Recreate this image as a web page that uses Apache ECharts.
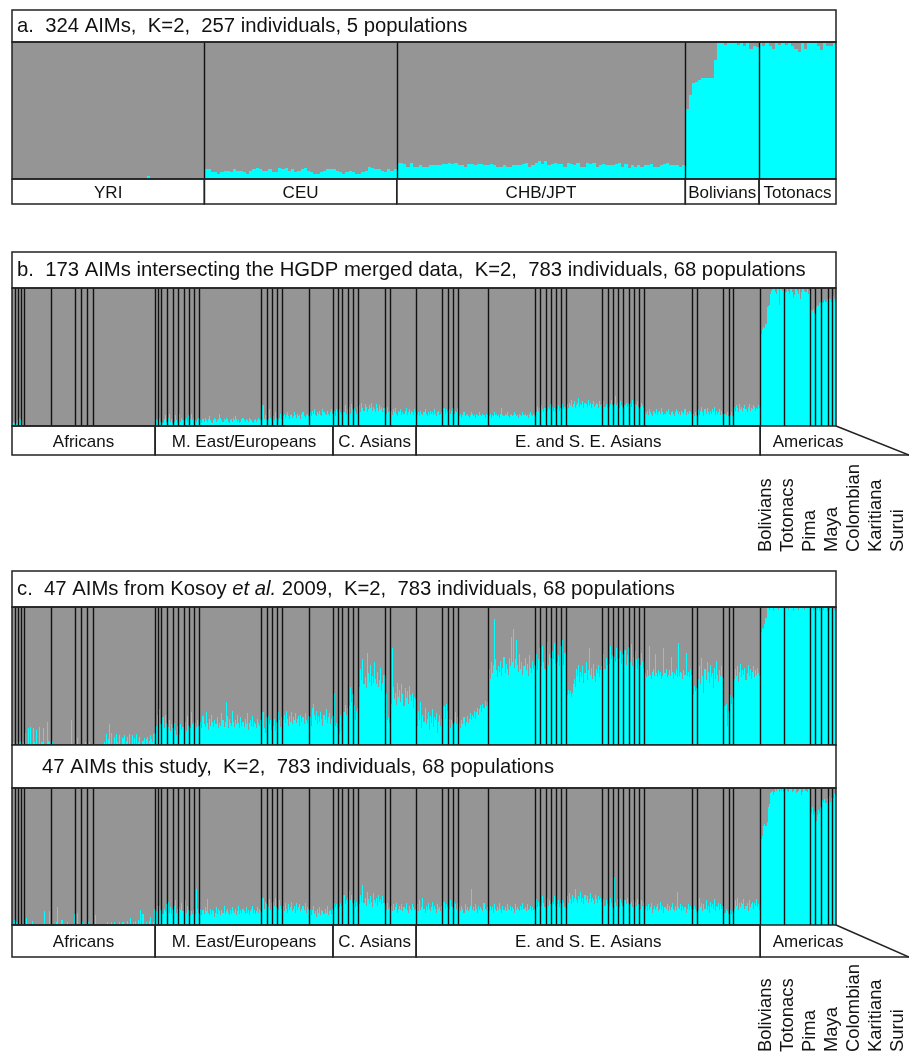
<!DOCTYPE html>
<html>
<head>
<meta charset="utf-8">
<script src="https://cdn.jsdelivr.net/npm/echarts@6/dist/echarts.min.js"></script>
<style>
  html, body { margin: 0; padding: 0; background: #ffffff; }
  #chart { width: 909px; height: 1055px; }
</style>
</head>
<body>
<div id="chart"></div>
<script>
// ---------------------------------------------------------------------------
// Ancestry proportions (percent of the cyan cluster, K=2) per individual,
// grouped by population.
// ---------------------------------------------------------------------------

// a. 324 AIMs, HapMap + two Native American samples
const hapmapNames = ['YRI', 'CEU', 'CHB/JPT', 'Bolivians', 'Totonacs'];
const hapmapValues = [
  [1,0,0,0,0,0,0,0,0,0, 0,0,0,0,0,0,0,0,0,0, 0,0,0,0,0,0,0,0,0,0, 0,0,0,0,0,0,0,0,0,0, 0,0,2,1,0,0,0,0,0,0, 0,0,0,0,0,0,0,0,1,0],
  [7,7,5,5,4,5,6,6,5,7, 6,6,5,4,6,7,8,7,6,6, 7,5,5,8,7,8,6,7,5,6, 7,8,6,5,4,4,5,6,7,7, 7,6,5,4,5,6,5,4,4,5, 6,9,8,7,7,6,5,7,6,7],
  [12,12,11,9,12,9,9,10,9,9, 10,10,10,10,11,11,12,11,12,10, 10,9,11,11,10,11,11,10,10,11, 10,9,9,10,9,9,10,10,10,11,
   12,9,10,12,13,11,13,10,11,12, 11,11,9,12,11,10,12,9,9,12, 11,12,9,10,11,10,10,10,11,12, 9,11,8,10,9,10,9,10,10,11,
   9,9,10,11,12,10,10,10,9,10],
  [51,61,70,71,72,74,74,74,74,87, 99,99,98,99,99,99,98,99,97,99, 95,97,96],
  [99,97,99,97,95,99,98,99,98,99, 97,95,93,99,95,99,99,99,97,94, 99,97,97,99]
];

// b./c. 68 populations, 783 individuals
const hgdpGroups = ['Africans', 'M. East/Europeans', 'C. Asians', 'E. and S. E. Asians', 'Americas'];
const hgdpGroupPopCounts = [10, 16, 8, 27, 7];
const americasNames = ['Bolivians', 'Totonacs', 'Pima', 'Maya', 'Colombian', 'Karitiana', 'Surui'];
const hgdpPopSizes = [
  3,3,3,2,26,23,6,5,6,59,
  3,3,5,6,5,5,5,5,5,59,5,5,5,5,25,23,
  5,4,5,5,5,25,5,25,
  25,5,5,5,28,45,5,5,5,5,5,4,35,5,5,5,5,5,5,5,5,45,5,25,5,4,26,
  23,24,5,6,6,4,4
];

// b. 173 AIMs intersecting the HGDP merged data
const hgdpB = [
  [2,3,2],[3,2,4],[4,6,5],[1,0],
  [0,0,0,0,0,0,0,0,0,0, 0,0,0,0,0,0,0,0,0,0, 0,0,0,0,0,0],
  [0,0,0,0,0,0,0,0,0,0, 0,0,0,0,0,0,0,0,0,0, 0,0,0],
  [0,0,0,0,0,0],[0,0,0,0,0],[0,0,0,0,0,0],
  [0,0,0,0,0,0,0,0,0,0, 0,0,0,0,0,0,0,0,0,0, 0,0,0,0,0,0,0,0,0,0, 0,0,0,0,0,0,0,0,0,0, 0,0,0,0,0,0,0,0,0,0, 0,0,0,0,0,0,0,0,0],
  [3,5,4],[2,6,3],[7,2,5,8,3],[4,6,9,3,5,2],[6,3,8,4,2],[5,9,3,6,4],[7,4,6,3,8],[3,5,9,4,6],[2,4,3,5,6],
  [3,4,2,5,3,6,4,3,5,7, 4,3,2,4,6,5,3,4,5,9, 6,4,3,5,4,6,5,3,2,4, 5,3,6,4,7,5,3,4,2,3, 5,6,4,3,5,4,3,6,5,4, 3,2,4,5,3,4,6,5,4],
  [6,15,5,8,4],[9,5,12,6,4],[5,7,4,10,6],[8,4,6,9,5],
  [7,9,6,8,10,7,5,8,9,6, 7,10,8,6,9,7,8,5,9,10, 7,6,8,9,7],
  [8,10,7,11,9,12,8,7,10,9, 11,8,7,12,10,9,8,11,9,7, 10,12,9],
  [9,11,7,12,10],[8,12,10,9],[13,10,15,9,12],[11,14,9,16,12],[10,13,11,9,14],
  [12,15,10,17,13,11,16,14,10,12, 15,13,17,11,14,12,10,16,13,11, 15,12,14,10,13],
  [12,9,14,10,11],
  [9,11,8,12,10,13,9,7,11,10, 12,8,10,9,11,13,8,10,12,9, 11,10,8,12,10],
  [9,8,10,7,11,9,8,10,12,9, 7,10,8,11,9,10,8,12,9,7, 10,11,8,9,10],
  [11,13,9,12,10],[10,12,9,11,13],[12,9,11,10,13],
  [8,7,9,6,8,10,7,8,9,7, 6,8,10,9,7,8,6,9,8,7, 10,8,7,9,8,6,9,8],
  [8,7,9,6,8,7,10,8,9,7, 8,6,9,13,8,7,9,8,10,7, 6,8,9,7,8,10,9,7,8,6, 9,8,7,10,8,9,7,8,6,9, 10,8,7,9,8],
  [12,10,14,11,13],[11,15,12,10,13],[13,11,14,12,16],[12,14,11,13,10],[14,12,15,11,13],[13,16,12,14],
  [14,16,13,17,15,19,14,16,18,13, 15,17,20,14,16,15,18,13,17,16, 14,19,15,17,13,16,18,14,15,17, 16,13,18,15,16],
  [15,18,14,16,13],[17,14,16,19,15],[14,16,22,15,17],[16,13,18,15,14],[18,15,17,14,16],[15,17,14,19,16],[13,16,15,18,14],[16,14,17,15,13],
  [10,9,11,8,12,10,9,7,11,10, 9,12,8,10,11,9,13,10,8,9, 11,10,12,9,8,10,11,9,7,10, 12,11,9,10,8,11,10,9,12,8, 10,9,11,10,9],
  [8,9,7,10,8],
  [9,12,8,11,14,10,7,12,9,13, 10,8,11,9,12,10,14,8,11,9, 10,12,8,11,9],
  [7,9,8,10,7],[9,8,10,7],
  [12,14,11,15,13,10,16,12,14,11, 13,15,12,10,14,16,11,13,12,15, 14,11,13,12,15,13],
  [66,67,70,72,71,74,86,87,88,96, 98,99,100,99,97,96,99,100,88,99, 100,98,99],
  [99,97,100,98,96,99,100,97,93,95, 99,100,98,96,99,92,97,99,100,98, 97,99,96,98],
  [82,84,83,85,82],[84,86,88,87,89,90],[88,90,89,91,90,92],[91,93,92,90],[93,94,92,95]
];

// c. 47 AIMs from Kosoy et al. 2009
const hgdpC1 = [
  [0,2,1],[3,1,2],[4,2,3],[1,2],
  [0,9,1,0,12,0,13,1,0,12, 2,0,11,0,1,13,0,2,12,0, 0,1,17,3,2,0],
  [2,3,1,0,0,0,0,0,0,0, 0,0,0,0,0,0,0,0,0,18, 0,0,0],
  [0,0,5,0,0,0],[0,0,0,2,0],[0,0,2,0,0,0],
  [0,0,0,0,0,0,0,1,0,0, 2,0,8,0,4,15,0,9,0,1, 6,0,8,2,0,7,0,1,5,7, 0,3,6,0,8,1,0,7,0,5, 0,8,0,2,6,1,0,3,5,0, 4,6,0,3,7,4,2,8,9],
  [20,14,22],[18,26,15],[24,20,12,22,16],[8,13,18,10,15,12],[9,16,11,7,14],[12,8,15,11,13],[26,17,10,21,14],[19,12,24,15,17],[11,16,13,18,14],
  [14,17,12,21,15,13,24,16,11,19, 14,22,17,13,18,15,15,20,12,16, 14,23,18,13,17,31,21,12,19,16, 14,25,17,13,18,15,22,16,12,20, 14,17,13,19,15,23,11,16,18,14, 21,13,17,15,12,19,16,14,18],
  [16,24,12,9,20],[13,21,15,18,11],[22,14,19,10,17],[15,24,18,13,20],
  [18,22,16,25,19,14,21,17,24,15, 20,18,23,16,19,21,14,22,17,20, 15,23,18,16,21],
  [16,20,14,27,30,22,18,25,15,21, 17,24,19,14,22,18,26,16,20,23, 15,19,21],
  [18,38,14,16,12],[9,8,22,10],[26,24,29,22,27],[34,28,42,31,37],[22,29,18,25,27],
  [45,42,55,47,62,44,49,41,67,52, 46,58,43,50,45,60,48,44,53,42, 47,56,39,45,51],
  [19,37,18,20,16],
  [36,30,70,42,33,38,29,45,35,40, 31,44,37,28,41,34,39,30,43,36, 32,38,27,35,33],
  [20,14,25,18,31,12,22,17,27,15, 19,24,11,21,16,26,13,20,18,23, 9,17,22,14,19],
  [22,28,19,30,25],[15,19,12,18,16],[21,17,24,15,20],
  [13,16,12,18,15,20,14,17,21,16, 19,23,18,22,20,25,19,24,27,22, 26,29,24,30,27,32,28,31],
  [50,55,48,60,52,58,91,62,54,49, 57,53,61,50,56,64,52,59,55,51, 63,57,78,60,84,56,62,76,58,53, 66,55,60,51,57,63,54,59,50,65, 56,52,61,55,58],
  [58,66,54,62,70],[64,57,72,60,55],[61,75,58,66,63],[56,68,62,74,59],[70,60,65,57,72],[63,76,58,67],
  [38,36,40,37,39,35,38,44,48,42, 55,50,58,46,53,49,57,45,52,60, 47,54,70,51,56,48,59,50,46,55, 52,58,49,54,57],
  [60,66,55,63,58],[67,59,72,62,65],[57,64,60,70,62],[74,63,68,59,66],[61,69,58,65,71],[66,60,73,57,64],[59,68,62,55,63],[64,58,67,61,56],
  [52,49,54,50,72,51,48,53,55,50, 66,52,49,54,51,53,48,50,70,52, 55,49,51,54,50,64,53,48,52,51, 55,49,74,50,53,52,48,54,51,67, 50,53,49,55,51],
  [40,37,43,39,41],
  [52,48,57,44,63,50,38,55,47,60, 53,45,58,49,52,41,56,48,61,51, 46,54,50,57,49],
  [35,28,30,14,25],[33,36,30,35],
  [52,48,55,50,57,46,53,59,49,54, 51,56,47,52,58,50,55,48,53,57, 49,54,51,56,52,50],
  [80,82,85,84,88,92,99,100,98,100, 99,100,97,100,100,99,100,98,100,99, 100,100,99],
  [100,99,100,98,100,100,99,100,97,100, 100,99,100,98,100,100,99,100,100,98, 100,99,100,100],
  [98,100,99,97,100],[100,99,98,100,97,99],[99,100,98,100,99,97],[100,98,100,99],[99,100,98,100]
];

// 47 AIMs this study
const hgdpC2 = [
  [3,0,4],[0,2,0],[3,0,0],[1,0],
  [0,0,5,1,0,0,0,0,3,0, 1,0,0,0,0,0,0,0,0,10, 0,0,0,0,10,1],
  [0,0,0,0,0,2,13,0,0,0, 4,0,0,0,0,2,0,0,0,0, 0,1,8],
  [0,0,9,0,0,0],[2,0,0,0,0],[0,3,0,0,0,0],
  [0,0,7,0,0,0,1,0,0,0, 1,1,0,2,1,1,0,2,1,0, 2,1,1,0,1,2,0,1,2,1, 0,1,3,1,0,5,0,1,2,0, 3,1,0,4,1,11,0,8,1,0, 2,1,0,3,6,1,0,2,12],
  [12,10,14],[9,14,11],[13,8,12,10,15],[11,17,9,13,8,12],[10,14,18,9,12],[8,13,11,16,10],[12,18,9,14,11],[9,7,10,8,11],[10,8,26,12,9],
  [9,12,7,11,8,13,10,19,9,7, 12,8,11,10,6,9,13,8,12,10, 7,11,9,14,8,10,12,9,7,11, 8,13,10,9,12,7,10,14,8,11, 9,12,10,8,13,9,11,7,10,12, 14,9,11,8,10,13,9,12,10],
  [14,20,12,17,15],[18,13,19,11,16],[12,17,14,20,13],[16,11,18,14,12],
  [14,10,16,12,9,15,11,13,17,10, 12,14,9,16,11,13,15,10,12,14, 11,16,9,13,12],
  [9,12,7,11,14,8,10,6,12,9, 13,7,11,10,8,12,9,14,7,10, 11,8,12],
  [14,16,13,15,12],[15,13,16,14],[17,22,15,18,20],[29,25,18,22,16],[15,18,13,17,14],
  [18,15,22,17,29,16,20,14,24,19, 15,21,17,13,23,18,16,20,14,22, 17,19,15,21,16],
  [14,11,16,12,13],
  [12,14,10,15,11,13,16,9,12,14, 11,15,10,13,12,16,11,9,14,12, 10,15,13,11,12],
  [12,15,10,18,11,13,20,12,9,14, 11,16,12,10,13,17,11,14,12,9, 15,12,13,10,14],
  [14,17,12,15,13],[16,12,18,14,13],[13,17,15,12,16],
  [11,13,10,14,12,9,15,11,13,10, 12,14,26,11,13,10,15,12,9,14, 11,13,12,10,16,12,11,13],
  [12,10,14,11,13,9,15,12,10,13, 11,16,12,9,14,11,13,10,15,12, 11,14,10,13,12,9,15,11,13,12, 10,14,11,16,12,13,10,15,11,12, 14,10,13,11,12],
  [15,19,13,17,14],[18,14,21,16,13],[16,20,14,18,15],[13,17,15,21,14],[19,15,18,13,16],[14,18,16,13],
  [18,21,16,23,19,15,22,17,20,26, 18,16,21,19,24,17,20,15,22,18, 21,16,19,23,17,20,18,15,22,19, 16,21,18,20,17],
  [16,19,14,18,15],[18,14,20,16,13],[15,35,17,14,19],[17,13,19,16,14],[14,18,15,20,16],[19,15,17,13,18],[13,17,14,19,15],[16,12,18,14,17],
  [12,14,10,15,11,13,16,9,12,14, 11,13,15,10,12,17,11,14,9,13, 12,15,10,14,11,13,16,12,10,14, 11,24,13,12,15,10,14,11,13,9, 12,15,11,14,12],
  [13,11,14,12,10],
  [14,11,20,13,16,10,15,12,18,11, 14,9,17,13,15,12,19,10,14,13, 16,11,15,12,14],
  [11,9,12,10,8],[9,11,8,10],
  [15,12,18,14,20,11,16,13,17,15, 19,12,14,16,10,18,13,15,17,12, 16,14,19,13,15,11],
  [62,63,65,72,74,72,75,86,88,96, 97,98,95,97,99,98,100,99,97,100, 98,99,97],
  [99,100,98,97,99,100,100,97,98,99, 100,96,97,98,100,99,95,97,99,100, 98,97,99,100],
  [84,82,86,80,83],[78,76,80,84,82,86],[88,91,90,92,89,93],[92,94,90,93],[95,93,96,94]
];

const titleA = 'a.  324 AIMs,  K=2,  257 individuals, 5 populations';
const titleB = 'b.  173 AIMs intersecting the HGDP merged data,  K=2,  783 individuals, 68 populations';
const titleC = 'c.  47 AIMs from Kosoy {it|et al.} 2009,  K=2,  783 individuals, 68 populations';
const titleC2 = '47 AIMs this study,  K=2,  783 individuals, 68 populations';

// ---------------------------------------------------------------------------
// Drawing
// ---------------------------------------------------------------------------
const CYAN = '#00ffff';
const GRAY = '#959595';
const INK = '#222222';
const FONT = "'Liberation Sans', Arial, Helvetica, sans-serif";

function countOf(pops) { return pops.reduce((s, p) => s + p.length, 0); }

function individuals(pops) {
  const out = [];
  let i = 0;
  pops.forEach(p => p.forEach(v => { out.push([i, v / 100]); i++; }));
  return out;
}

// one stacked bar per individual: cyan share at the bottom, grey share above
function renderBar(params, api) {
  const i = api.value(0), q = api.value(1);
  const lo = api.coord([i, 0]), hi = api.coord([i + 1, 1]), mid = api.coord([i, q]);
  const x0 = Math.round(lo[0]), x1 = Math.round(hi[0]);
  const yB = lo[1], yT = hi[1], yM = Math.round(mid[1]);
  return {
    type: 'group',
    children: [
      { type: 'rect', shape: { x: x0, y: yT, width: x1 - x0, height: yM - yT }, style: { fill: GRAY } },
      { type: 'rect', shape: { x: x0, y: yM, width: x1 - x0, height: yB - yM }, style: { fill: CYAN } }
    ]
  };
}

function barSeries(axis, pops) {
  return {
    type: 'custom', xAxisIndex: axis, yAxisIndex: axis, data: individuals(pops),
    renderItem: renderBar, silent: true, z: 2, progressive: 0, animation: false
  };
}

// population dividers
function dividerSeries(axis, sizes) {
  const data = [];
  let acc = 0;
  sizes.forEach((n, k) => { acc += n; if (k < sizes.length - 1) data.push([acc, 0]); });
  return {
    type: 'custom', xAxisIndex: axis, yAxisIndex: axis, data, silent: true, z: 3, animation: false,
    renderItem(params, api) {
      const b = api.value(0);
      const p0 = api.coord([b, 0]), p1 = api.coord([b, 1]);
      const x = Math.round(p0[0]) + 0.5;
      return { type: 'line', shape: { x1: x, y1: p0[1], x2: x, y2: p1[1] }, style: { stroke: '#111', lineWidth: 1.4 } };
    }
  };
}

function groupRanges(popSizes, groupPopCounts) {
  const ranges = [];
  let p = 0, i = 0;
  groupPopCounts.forEach((c, g) => {
    let n = 0;
    for (let k = 0; k < c; k++) n += popSizes[p + k];
    ranges.push([i, i + n, g]);
    i += n; p += c;
  });
  return ranges;
}

// boxed region names under a plot; the last box can open out toward the rotated names
function labelRowSeries(axis, ranges, names, fanLast) {
  return {
    type: 'custom', xAxisIndex: axis, yAxisIndex: axis, data: ranges, silent: true, z: 5, animation: false,
    renderItem(params, api) {
      const s = api.value(0), e = api.value(1), g = api.value(2);
      const a = api.coord([s, 1]), b = api.coord([e, 0]);
      const x0 = a[0], yT = a[1], x1 = b[0], yB = b[1];
      const line = { stroke: INK, lineWidth: 1.5, fill: null };
      const kids = [];
      let cx = (x0 + x1) / 2;
      if (fanLast && g === names.length - 1) {
        const right = api.getWidth();
        kids.push({ type: 'polyline', shape: { points: [[x0, yT], [x0, yB], [right, yB]] }, style: line });
        kids.push({ type: 'line', shape: { x1: x1, y1: yT, x2: right, y2: yB }, style: line });
        cx += 10;
      } else {
        kids.push({ type: 'rect', shape: { x: x0, y: yT, width: x1 - x0, height: yB - yT }, style: line });
      }
      kids.push({
        type: 'text',
        style: { x: cx, y: (yT + yB) / 2 + 1.5, text: names[g], align: 'center', verticalAlign: 'middle',
                 fontSize: 17, fontFamily: FONT, fill: '#111' }
      });
      return { type: 'group', children: kids };
    }
  };
}

// ---------------------------------------------------------------------------
// Layout
// ---------------------------------------------------------------------------
const L = 12, W = 824;
const gridBoxes = [
  { top: 42,  height: 137 },  // 0  a bars
  { top: 179, height: 25 },   // 1  a names
  { top: 288, height: 138 },  // 2  b bars
  { top: 426, height: 29 },   // 3  b names
  { top: 607, height: 138 },  // 4  c bars (Kosoy et al.)
  { top: 788, height: 137 },  // 5  c bars (this study)
  { top: 925, height: 32 }    // 6  c names
];
const nHap = countOf(hapmapValues);
const nHgdp = hgdpPopSizes.reduce((s, n) => s + n, 0);
const axisN = [nHap, nHap, nHgdp, nHgdp, nHgdp, nHgdp, nHgdp];

const grid = gridBoxes.map(g => ({ left: L, width: W, top: g.top, height: g.height, containLabel: false }));
grid.push({ left: 755, width: 156, top: 553, height: 1 });   // 7 Americas names under b
grid.push({ left: 755, width: 156, top: 1053, height: 1 });  // 8 Americas names under c

const xAxis = axisN.map((n, k) => ({ gridIndex: k, type: 'value', min: 0, max: n, show: false }));
const yAxis = axisN.map((n, k) => ({ gridIndex: k, type: 'value', min: 0, max: 1, show: false }));
[7, 8].forEach(k => {
  xAxis.push({
    gridIndex: k, type: 'category', position: 'top', data: americasNames,
    axisLine: { show: false }, axisTick: { show: false }, splitLine: { show: false },
    axisLabel: { rotate: 90, margin: 1, interval: 0, fontSize: 18.4, fontFamily: FONT, color: '#111' }
  });
  yAxis.push({ gridIndex: k, type: 'value', show: false });
});

const hapSizes = hapmapValues.map(p => p.length);
const hapRanges = groupRanges(hapSizes, hapSizes.map(() => 1));
const hgdpRanges = groupRanges(hgdpPopSizes, hgdpGroupPopCounts);

const series = [
  barSeries(0, hapmapValues), dividerSeries(0, hapSizes),
  labelRowSeries(1, hapRanges, hapmapNames, false),
  barSeries(2, hgdpB), dividerSeries(2, hgdpPopSizes),
  labelRowSeries(3, hgdpRanges, hgdpGroups, true),
  barSeries(4, hgdpC1), dividerSeries(4, hgdpPopSizes),
  barSeries(5, hgdpC2), dividerSeries(5, hgdpPopSizes),
  labelRowSeries(6, hgdpRanges, hgdpGroups, true),
  { type: 'scatter', xAxisIndex: 7, yAxisIndex: 7, data: [] },
  { type: 'scatter', xAxisIndex: 8, yAxisIndex: 8, data: [] }
];

function frame(y, h, fill) {
  return { type: 'rect', z: 100, silent: true, shape: { x: L, y: y, width: W, height: h },
           style: { fill: fill || null, stroke: INK, lineWidth: 1.5 } };
}
function heading(x, y, text) {
  return { type: 'text', z: 101, silent: true, x: x, y: y,
           style: { text: text, fontSize: 20.3, fontFamily: FONT, fill: '#111', verticalAlign: 'middle',
                    rich: { it: { fontSize: 20.3, fontFamily: FONT, fontStyle: 'italic', fill: '#111' } } } };
}

const graphic = [
  frame(10, 32, '#fff'), heading(17, 26.5, titleA), frame(42, 137),
  frame(252, 36, '#fff'), heading(17, 270.5, titleB), frame(288, 138),
  frame(571, 36, '#fff'), heading(17, 589.5, titleC), frame(607, 138),
  frame(745, 43, '#fff'), heading(42, 767, titleC2), frame(788, 137)
];

const chart = echarts.init(document.getElementById('chart'), null, { renderer: 'canvas' });
chart.setOption({
  animation: false,
  backgroundColor: '#ffffff',
  textStyle: { fontFamily: FONT },
  grid, xAxis, yAxis, series, graphic
});

// consistency check: all three HGDP panels must describe the same individuals
const bad = [];
[['b', hgdpB], ['c1', hgdpC1], ['c2', hgdpC2]].forEach(([name, pops]) => {
  if (pops.length !== hgdpPopSizes.length) bad.push(name + ' has ' + pops.length + ' populations');
  pops.forEach((p, k) => { if (p.length !== hgdpPopSizes[k]) bad.push(name + ' pop ' + k + ': ' + p.length + ' vs ' + hgdpPopSizes[k]); });
});
if (nHap !== 257) bad.push('hapmap total ' + nHap);
if (nHgdp !== 783) bad.push('hgdp total ' + nHgdp);
if (bad.length) throw new Error(bad.join('; '));
</script>
</body>
</html>
